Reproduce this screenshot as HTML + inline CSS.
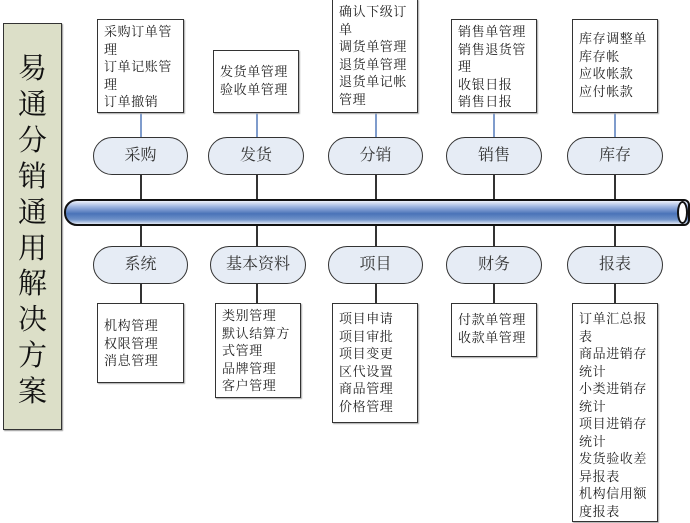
<!DOCTYPE html>
<html><head><meta charset="utf-8"><style>
body{margin:0;width:690px;height:523px;background:#fff;position:relative;overflow:hidden;font-family:"Liberation Serif","Noto Serif CJK SC","Noto Sans CJK SC",serif;}
.a{position:absolute;box-sizing:border-box;}
.box{border:1.5px solid #333;background:#fff;padding:3px 0 0 6px;font-size:13px;line-height:17.5px;color:#222;letter-spacing:0.6px;white-space:nowrap;overflow:hidden;box-shadow:1px 1px 1px #aaa;}
.pill{border:1.3px solid #333;border-radius:19px;background:#e6ecf5;text-align:center;font-size:16px;line-height:36px;color:#333;}
.v{width:1.5px;}
</style></head><body>
<div class="a" style="left:3px;top:23px;width:59px;height:407px;background:#dcdfc8;border:1.5px solid #333;box-shadow:1px 1px 1px #999;"></div>
<div class="a" style="left:3px;top:52px;width:59px;text-align:center;font-size:29px;line-height:35.9px;color:#111;">易<br>通<br>分<br>销<br>通<br>用<br>解<br>决<br>方<br>案</div>

<div class="a v" style="left:140px;top:112px;height:25px;background:#7f9ccc"></div>
<div class="a v" style="left:256px;top:112px;height:25px;background:#7f9ccc"></div>
<div class="a v" style="left:375px;top:112px;height:25px;background:#7f9ccc"></div>
<div class="a v" style="left:493px;top:112px;height:25px;background:#7f9ccc"></div>
<div class="a v" style="left:614px;top:112px;height:25px;background:#7f9ccc"></div>
<div class="a v" style="left:140px;top:175px;height:128px;background:#333"></div>
<div class="a v" style="left:256px;top:175px;height:128px;background:#333"></div>
<div class="a v" style="left:375px;top:175px;height:128px;background:#333"></div>
<div class="a v" style="left:493px;top:175px;height:128px;background:#333"></div>
<div class="a v" style="left:614px;top:175px;height:128px;background:#333"></div>

<div class="a" style="left:64px;top:199px;width:626px;height:27px;border:2px solid #111;border-radius:13px 6px 6px 13px;background:linear-gradient(#eef2fa 0%,#9db4df 25%,#4a73b8 55%,#6d90c8 80%,#dfe7f4 100%);"></div>
<div class="a" style="left:677px;top:201px;width:11px;height:23px;border:2px solid #111;border-radius:50%;background:#fff;"></div>

<div class="a box" style="left:97px;top:19px;width:87px;height:94px;">采购订单管<br>理<br>订单记账管<br>理<br>订单撤销</div>
<div class="a box" style="left:213px;top:50px;width:86px;height:63px;padding-top:12px;">发货单管理<br>验收单管理</div>
<div class="a box" style="left:332px;top:-1px;width:86px;height:114px;">确认下级订<br>单<br>调货单管理<br>退货单管理<br>退货单记帐<br>管理</div>
<div class="a box" style="left:451px;top:19px;width:86px;height:94px;">销售单管理<br>销售退货管<br>理<br>收银日报<br>销售日报</div>
<div class="a box" style="left:572px;top:19px;width:86px;height:94px;padding-top:10px;">库存调整单<br>库存帐<br>应收帐款<br>应付帐款</div>

<div class="a pill" style="left:93px;top:137px;width:95px;height:38px;">采购</div>
<div class="a pill" style="left:208px;top:137px;width:96px;height:38px;">发货</div>
<div class="a pill" style="left:328px;top:137px;width:95px;height:38px;">分销</div>
<div class="a pill" style="left:446px;top:137px;width:96px;height:38px;">销售</div>
<div class="a pill" style="left:567px;top:137px;width:96px;height:38px;">库存</div>

<div class="a pill" style="left:93px;top:246px;width:95px;height:38px;">系统</div>
<div class="a pill" style="left:210px;top:246px;width:96px;height:38px;">基本资料</div>
<div class="a pill" style="left:328px;top:246px;width:95px;height:38px;">项目</div>
<div class="a pill" style="left:446px;top:246px;width:96px;height:38px;">财务</div>
<div class="a pill" style="left:567px;top:246px;width:96px;height:38px;">报表</div>

<div class="a box" style="left:97px;top:303px;width:87px;height:80px;padding-top:13px;">机构管理<br>权限管理<br>消息管理</div>
<div class="a box" style="left:215px;top:303px;width:86px;height:95px;">类别管理<br>默认结算方<br>式管理<br>品牌管理<br>客户管理</div>
<div class="a box" style="left:332px;top:303px;width:86px;height:120px;padding-top:6px;">项目申请<br>项目审批<br>项目变更<br>区代设置<br>商品管理<br>价格管理</div>
<div class="a box" style="left:451px;top:303px;width:86px;height:54px;padding-top:7px;">付款单管理<br>收款单管理</div>
<div class="a box" style="left:572px;top:303px;width:86px;height:219px;padding-top:6px;">订单汇总报<br>表<br>商品进销存<br>统计<br>小类进销存<br>统计<br>项目进销存<br>统计<br>发货验收差<br>异报表<br>机构信用额<br>度报表</div>
</body></html>
